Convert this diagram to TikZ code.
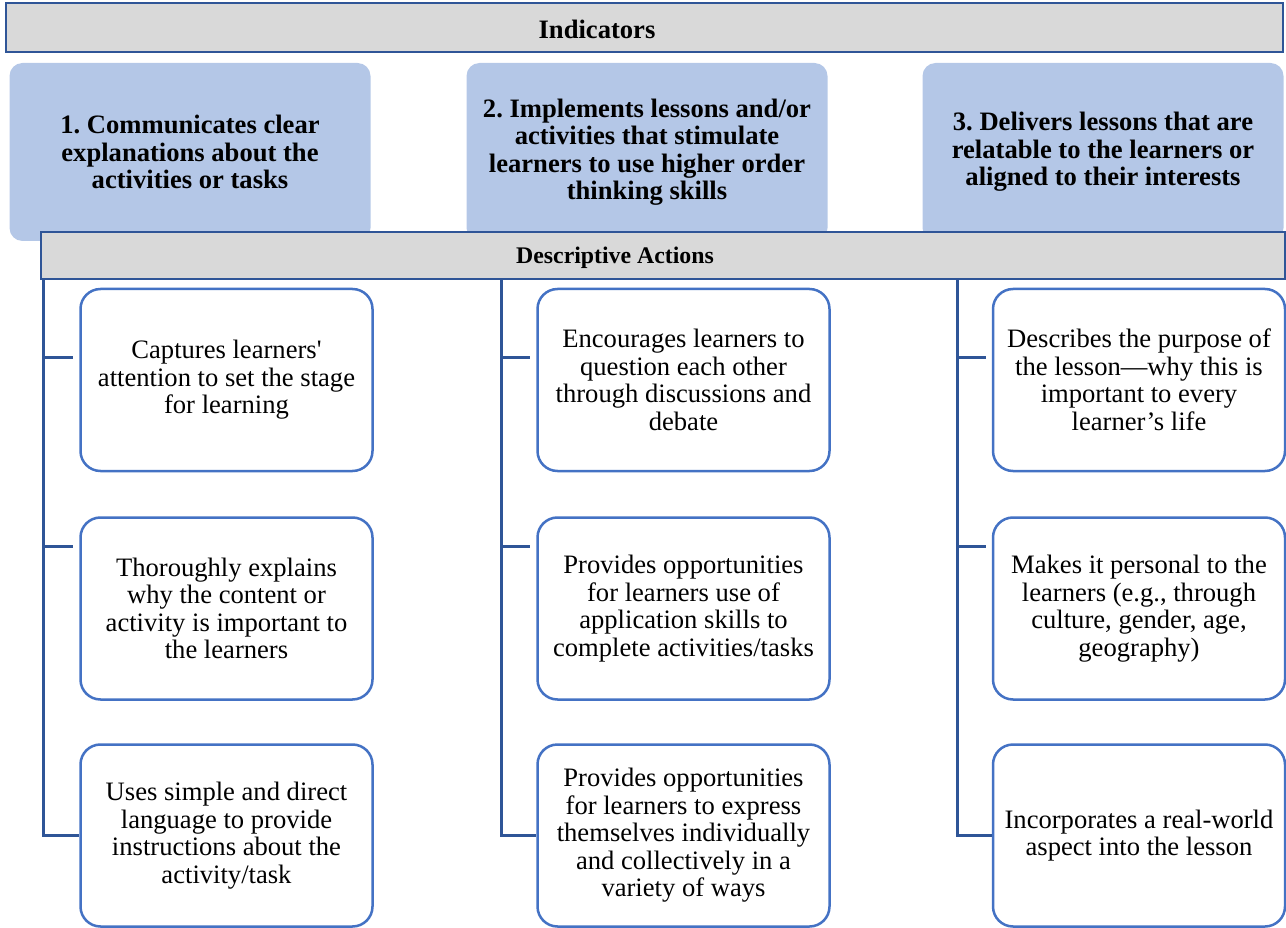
\documentclass[tikz,border=0pt]{standalone}
\usepackage{fontspec}
\setmainfont{Liberation Serif}
\usepackage{tikz}
\definecolor{barfill}{HTML}{D9D9D9}
\definecolor{barline}{HTML}{2F5597}
\definecolor{indfill}{HTML}{B4C7E7}
\definecolor{actline}{HTML}{4472C4}
\frenchspacing

\begin{document}
\begin{tikzpicture}[x=1pt,y=-1pt,
  hdr/.style={rectangle,draw=barline,fill=barfill,line width=2.2pt,inner sep=0pt},
  ind/.style={rectangle,rounded corners=13pt,fill=indfill,minimum width=361pt,minimum height=178pt,
    align=center,font=\bfseries\fontsize{26.6}{27.5}\selectfont},
  act/.style={rectangle,rounded corners=20pt,draw=actline,fill=white,line width=2.5pt,
    minimum width=292pt,minimum height=182pt,align=center,font=\fontsize{26.6}{27.5}\selectfont},
  conn/.style={draw=barline,line width=3pt}]
  \useasboundingbox (0,0) rectangle (1286,928);
  \node[hdr,minimum width=1277pt,minimum height=49pt] (indbar) at (644.5,27.5) {};
  \node[anchor=base,font=\bfseries\fontsize{26.6}{27.5}\selectfont] (indtitle) at (597,39) {Indicators};
  \node[ind] (i1) at (190,152) {1. Communicates clear\\explanations about the\\activities or tasks};
  \node[ind] (i2) at (647,152) {2. Implements lessons and/or\\activities that stimulate\\learners to use higher order\\thinking skills};
  \node[ind] (i3) at (1103,152) {3. Delivers lessons that are\\relatable to the learners or\\aligned to their interests};
  \node[hdr,minimum width=1244pt,minimum height=47pt] (dabar) at (663,255.5) {};
  \node[anchor=base,font=\bfseries\fontsize{23.8}{25}\selectfont] (datitle) at (615,264) {Descriptive Actions};

  \node[act] (b11) at (226.5,380) {Captures learners\textquotesingle\\attention to set the stage\\for learning};
  \node[act] (b12) at (226.5,608.5) {Thoroughly explains\\why the content or\\activity is important to\\the learners};
  \node[act] (b13) at (226.5,835.5) {Uses simple and direct\\language to provide\\instructions about the\\activity/task};
  \node[act] (b21) at (683.5,380) {Encourages learners to\\question each other\\through discussions and\\debate};
  \node[act] (b22) at (683.5,608.5) {Provides opportunities\\for learners use of\\application skills to\\complete activities/tasks};
  \node[act] (b23) at (683.5,835.5) {Provides opportunities\\for learners to express\\themselves individually\\and collectively in a\\variety of ways};
  \node[act] (b31) at (1139,380) {Describes the purpose of\\the lesson—why this is\\important to every\\learner’s life};
  \node[act] (b32) at (1139,608.5) {Makes it personal to the\\learners (e.g., through\\culture, gender, age,\\geography)};
  \node[act] (b33) at (1139,835.5) {Incorporates a real-world\\aspect into the lesson};

  \foreach \c/\xv in {1/43.5,2/501,3/957}{
    \coordinate (v\c) at (\xv,279);
    \coordinate (t\c1) at ([xshift=-6pt,yshift=-69.5pt]b\c1.north west);
    \coordinate (t\c2) at ([xshift=-6pt,yshift=-30pt]b\c2.north west);
    \draw[conn] (v\c) |- (b\c3.west);
    \draw[conn] (v\c |- t\c1) -- (t\c1);
    \draw[conn] (v\c |- t\c2) -- (t\c2);
  }
\end{tikzpicture}
\end{document}
